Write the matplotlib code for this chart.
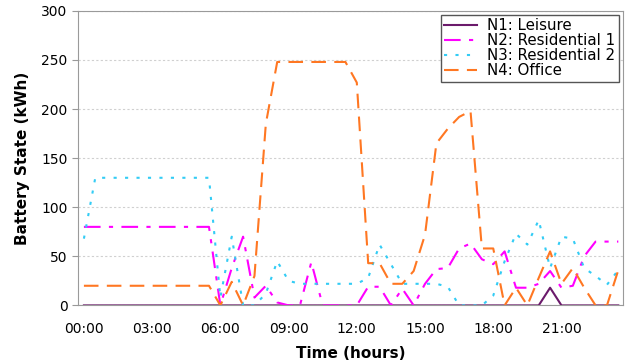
import numpy as np
import matplotlib
matplotlib.use("Agg")
import matplotlib.pyplot as plt

# half-hour steps, 00:00 .. 23:30
hours = np.arange(48) * 0.5

n1_leisure = [0] * 41 + [18] + [0] * 6

n2_res1 = [80] * 12 + [
    0, 38, 70, 8, 20, 3, 0, 0, 44, 0, 0, 0,
    0, 19, 19, 0, 17, 0, 22, 37, 38, 58, 63, 47,
    42, 55, 18, 18, 22, 35, 18, 20, 50, 65, 65, 65]

n3_res2 = [68] + [130] * 11 + [
    8, 70, 0, 0, 12, 45, 25, 22, 22, 22, 22, 22,
    22, 28, 62, 42, 22, 22, 22, 22, 19, 0, 0, 0,
    10, 45, 73, 62, 87, 38, 70, 68, 38, 30, 21, 36]

n4_office = [20] * 12 + [
    0, 24, 0, 30, 185, 248, 248, 248, 248, 248, 248, 248,
    227, 43, 43, 22, 22, 35, 72, 165, 180, 192, 198, 58,
    58, 0, 18, 0, 28, 55, 22, 38, 18, 0, 0, 36]

tick_hours = [0, 3, 6, 9, 12, 15, 18, 21]
tick_labels = ["00:00", "03:00", "06:00", "09:00", "12:00", "15:00", "18:00", "21:00"]

fig = plt.figure(figsize=(6.26, 3.64), dpi=100)
ax = fig.add_axes([0.1246, 0.161, 0.8704, 0.809])

ax.plot(hours, n1_leisure, color="#6b1a6b", lw=1.5, label="N1: Leisure")
ax.plot(hours, n2_res1, color="#ff00ff", lw=1.5, ls=(0, (8, 4, 2, 4)), label="N2: Residential 1")
ax.plot(hours, n3_res2, color="#33ccf5", lw=1.5, ls=(0, (1.5, 4)), label="N3: Residential 2")
ax.plot(hours, n4_office, color="#ff7722", lw=1.5, ls=(0, (7, 4)), label="N4: Office")

ax.set_xlim(-0.26, 23.7)
ax.set_ylim(0, 300)
ax.set_yticks(range(0, 301, 50))
ax.set_xticks(tick_hours)
ax.set_xticklabels(tick_labels)
ax.tick_params(axis="x", length=0, pad=12, labelsize=10)
ax.tick_params(axis="y", length=4, color="#999999", labelsize=10)
ax.yaxis.grid(True, ls=(0, (2, 2)), color="#d0d0d0", lw=0.8)
ax.set_axisbelow(True)
for s in ax.spines.values():
    s.set_color("#9a9a9a")

ax.set_xlabel("Time (hours)", fontsize=11, fontweight="bold", labelpad=7)
ax.set_ylabel("Battery State (kWh)", fontsize=11, fontweight="bold", labelpad=8)

leg = ax.legend(loc="upper right", fontsize=10.8, fancybox=False, framealpha=1,
                edgecolor="#555555", borderpad=0.25, labelspacing=0.0,
                handlelength=2.2, handletextpad=0.65, borderaxespad=0.25)
leg.get_frame().set_linewidth(1)

fig.savefig("out.png", dpi=100)
